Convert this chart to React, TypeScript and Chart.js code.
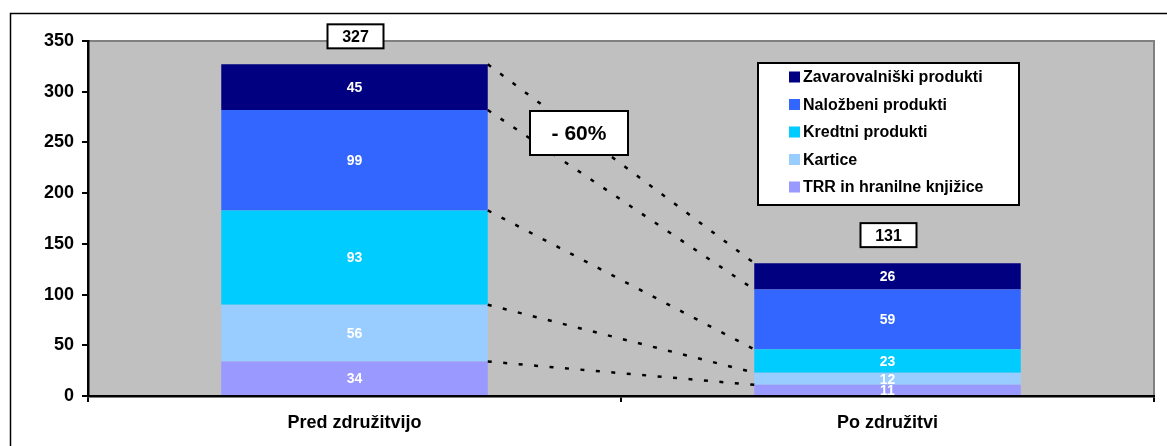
import React, { useEffect, useRef } from "react";
import { Chart, registerables } from "chart.js";

Chart.register(...registerables);

const categories = ["Pred združitvijo", "Po združitvi"];
const seriesNames = [
  "TRR in hranilne knjižice",
  "Kartice",
  "Kredtni produkti",
  "Naložbeni produkti",
  "Zavarovalniški produkti",
];
const trr = [34, 11];
const kartice = [56, 12];
const kreditni = [93, 23];
const nalozbeni = [99, 59];
const zavarovalniski = [45, 26];
const seriesColors = ["#9999FF", "#99CCFF", "#00CCFF", "#3366FF", "#000080"];
const yMin = 0;
const yMax = 350;
const yStep = 50;

const FONT = '"Liberation Sans", Arial, Helvetica, sans-serif';

const seriesValues = [trr, kartice, kreditni, nalozbeni, zavarovalniski];
const totals = categories.map((_, c) => seriesValues.reduce((s, arr) => s + arr[c], 0));
const changePct = Math.round((1 - totals[1] / totals[0]) * 100);

function boxText(ctx: CanvasRenderingContext2D, text: string, cx: number, cy: number, w: number, h: number, fontPx: number) {
  ctx.save();
  ctx.fillStyle = "#FFFFFF";
  ctx.fillRect(cx - w / 2, cy - h / 2, w, h);
  ctx.strokeStyle = "#000000";
  ctx.lineWidth = 2;
  ctx.setLineDash([]);
  ctx.strokeRect(cx - w / 2, cy - h / 2, w, h);
  ctx.fillStyle = "#000000";
  ctx.font = `bold ${fontPx}px ${FONT}`;
  ctx.textAlign = "center";
  ctx.textBaseline = "middle";
  ctx.fillText(text, cx, cy + 1);
  ctx.restore();
}

const overlayPlugin = {
  id: "overlay",
  beforeDraw(chart: any) {
    const { ctx, chartArea: a } = chart;
    ctx.save();
    ctx.strokeStyle = "#000000";
    ctx.lineWidth = 1.5;
    ctx.beginPath();
    ctx.moveTo(10.5, chart.height);
    ctx.lineTo(10.5, 13.5);
    ctx.lineTo(chart.width, 13.5);
    ctx.stroke();
    ctx.fillStyle = "#C0C0C0";
    ctx.fillRect(a.left, a.top, a.right - a.left, a.bottom - a.top);
    ctx.strokeStyle = "#808080";
    ctx.lineWidth = 2;
    ctx.beginPath();
    ctx.moveTo(a.left, a.top);
    ctx.lineTo(a.right, a.top);
    ctx.lineTo(a.right, a.bottom);
    ctx.stroke();
    ctx.restore();
  },
  afterDatasetsDraw(chart: any) {
    const { ctx, chartArea: a } = chart;
    const n = chart.data.datasets.length;
    ctx.save();
    // connector dotted lines
    ctx.strokeStyle = "#000000";
    ctx.lineWidth = 2.5;
    ctx.setLineDash([4, 11.5]);
    for (let i = 0; i < n; i++) {
      const meta = chart.getDatasetMeta(i);
      const e0 = meta.data[0].getProps(["x", "y", "width"], true);
      const e1 = meta.data[1].getProps(["x", "y", "width"], true);
      ctx.beginPath();
      ctx.moveTo(e0.x + e0.width / 2, e0.y);
      ctx.lineTo(e1.x - e1.width / 2, e1.y);
      ctx.stroke();
    }
    ctx.setLineDash([]);
    // segment value labels
    ctx.fillStyle = "#FFFFFF";
    ctx.font = `bold 14px ${FONT}`;
    ctx.textAlign = "center";
    ctx.textBaseline = "middle";
    for (let i = 0; i < n; i++) {
      const meta = chart.getDatasetMeta(i);
      meta.data.forEach((el: any, j: number) => {
        const p = el.getProps(["x", "y", "base"], true);
        ctx.fillText(String(chart.data.datasets[i].data[j]), p.x, (p.y + p.base) / 2 + 1);
      });
    }
    ctx.restore();

    // total boxes
    const yScale = chart.scales.y;
    const xScale = chart.scales.x;
    totals.forEach((t, j) => {
      const cx = xScale.getPixelForValue(j) + 1;
      const cy = yScale.getPixelForValue(t) - 28;
      boxText(ctx, String(t), cx, cy, 56, 24, 16);
    });

    // percentage box
    boxText(ctx, `- ${changePct}%`, a.left + 491, a.top + 92, 98, 44, 21);

    // legend
    const lx = a.left + 670;
    const ly = a.top + 22;
    const lw = 261;
    const lh = 142;
    ctx.save();
    ctx.fillStyle = "#FFFFFF";
    ctx.fillRect(lx, ly, lw, lh);
    ctx.strokeStyle = "#000000";
    ctx.lineWidth = 2;
    ctx.strokeRect(lx, ly, lw, lh);
    ctx.font = `bold 16px ${FONT}`;
    ctx.textAlign = "left";
    ctx.textBaseline = "middle";
    for (let k = 0; k < n; k++) {
      const i = n - 1 - k;
      const cy = ly + 14 + k * 27.5;
      ctx.fillStyle = seriesColors[i];
      ctx.fillRect(lx + 31, cy - 5.5, 11, 11);
      ctx.fillStyle = "#000000";
      ctx.fillText(seriesNames[i], lx + 45, cy + 1);
    }
    ctx.restore();
  },
};

export default function App() {
  const canvasRef = useRef<HTMLCanvasElement | null>(null);

  useEffect(() => {
    if (!canvasRef.current) return;
    const chart = new Chart(canvasRef.current, {
      type: "bar",
      data: {
        labels: categories,
        datasets: seriesNames.map((name, i) => ({
          label: name,
          data: seriesValues[i],
          backgroundColor: seriesColors[i],
          borderWidth: 0,
          barPercentage: 0.5,
          categoryPercentage: 1,
        })),
      },
      options: {
        responsive: false,
        animation: false,
        layout: { padding: { left: 0, top: 41, right: 13, bottom: 0 } },
        plugins: {
          legend: { display: false },
          tooltip: { enabled: false },
          title: { display: false },
        },
        scales: {
          x: {
            stacked: true,
            z: 1,
            offset: true,
            grid: {
              offset: true,
              drawOnChartArea: false,
              drawTicks: true,
              tickLength: 6,
              color: "#000000",
              lineWidth: 2,
            },
            border: { display: true, color: "#000000", width: 2.5 },
            ticks: {
              color: "#000000",
              font: { family: FONT, size: 18, weight: "bold" },
              padding: 10,
            },
            afterFit(scale: any) {
              scale.height = 50;
            },
          },
          y: {
            stacked: true,
            z: 1,
            min: yMin,
            max: yMax,
            grid: {
              drawOnChartArea: false,
              drawTicks: true,
              tickLength: 6,
              color: "#000000",
              lineWidth: 2,
            },
            border: { display: true, color: "#000000", width: 2.5 },
            ticks: {
              stepSize: yStep,
              color: "#000000",
              font: { family: FONT, size: 18, weight: "bold" },
              padding: 8,
            },
            afterFit(scale: any) {
              scale.width = 88;
            },
          },
        },
      },
      plugins: [overlayPlugin],
    });
    return () => chart.destroy();
  }, []);

  return (
    <div style={{ position: "absolute", left: 0, top: 0, width: 1167, height: 446, background: "#FFFFFF" }}>
      <canvas ref={canvasRef} width={1167} height={446} />
    </div>
  );
}
